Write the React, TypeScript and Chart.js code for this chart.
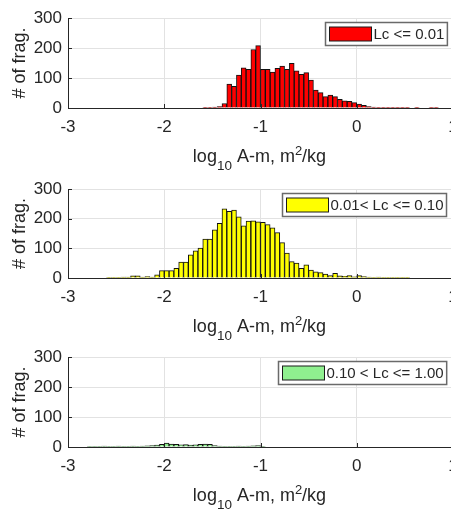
import React, { useEffect, useRef } from 'react';
import { Chart, registerables } from 'chart.js';

Chart.register(...registerables);

// ---- data ----
const BIN_WIDTH = 0.05;
const xTickValues = [-3, -2, -1, 0, 1];
const yTickValues = [0, 100, 200, 300];
const xTitleParts = [
  { text: 'log', kind: 'main' },
  { text: '10', kind: 'sub' },
  { text: ' A-m, m', kind: 'main' },
  { text: '2', kind: 'sup' },
  { text: '/kg', kind: 'main' },
];
const yTitle = '# of frag.';

// Lc <= 0.01 (bins start at -1.60)
const redStart = -1.6;
const redCounts = [
  1, 2, 3, 5, 15, 80, 72, 110, 134, 129, 195, 208, 129, 129, 120, 132, 140, 129, 149, 124,
  112, 118, 93, 60, 51, 38, 43, 38, 29, 24, 22, 18, 13, 9, 5, 3, 2, 1, 2, 1, 2, 1, 1, 0, 1, 0, 0, 1, 2,
];
// 0.01 < Lc <= 0.10 (bins start at -2.60)
const yellowStart = -2.6;
const yellowCounts = [
  1, 2, 2, 3, 3, 7, 7, 3, 5, 3, 11, 25, 25, 25, 33, 54, 54, 78, 92, 101, 131, 131, 162, 184, 233,
  225, 229, 206, 176, 192, 193, 189, 188, 180, 169, 153, 119, 84, 55, 50, 33, 44, 27, 21, 18, 13,
  8, 16, 7, 6, 8, 4, 8, 5, 3, 2, 3, 2, 1, 2, 1, 1, 1,
];
// 0.10 < Lc <= 1.00 (bins start at -2.80)
const greenStart = -2.8;
const greenCounts = [
  1, 2, 2, 3, 2, 2, 3, 2, 2, 3, 2, 3, 4, 5, 6, 9, 13, 10, 9, 7, 8, 6, 7, 9, 10, 9, 5, 3, 2, 2, 2,
  3, 2, 3, 4, 5, 2,
];

const labels = ['Lc <= 0.01', '0.01< Lc <= 0.10', '0.10 < Lc <= 1.00'];
const colors = ['#ff0000', '#ffff00', '#8ff08f'];

// ---- styling ----
const FONT = "'Liberation Sans', Arial, Helvetica, sans-serif";
const TEXT = '#262626';
const GRID = '#e2e2e2';
const CANVAS_W = 470;
const CANVAS_H = 170;

const decorPlugin = {
  id: 'decor',
  afterDatasetsDraw(chart: any, _args: any, opts: any) {
    const { ctx, chartArea: a, scales } = chart;
    ctx.save();
    // inward tick marks
    ctx.strokeStyle = TEXT;
    ctx.lineWidth = 1;
    ctx.beginPath();
    for (const v of yTickValues) {
      const y = Math.round(scales.y.getPixelForValue(v)) + 0.5;
      ctx.moveTo(a.left, y);
      ctx.lineTo(a.left + 4, y);
    }
    for (const v of xTickValues) {
      const x = Math.round(scales.x.getPixelForValue(v)) + 0.5;
      ctx.moveTo(x, a.bottom);
      ctx.lineTo(x, a.bottom - 4);
    }
    ctx.stroke();

    // legend box
    ctx.font = `15px ${FONT}`;
    const tw = ctx.measureText(opts.label).width;
    const sw = 42, sh = 14, padL = 4, gap = 2, padR = 3, bh = 23;
    const bw = padL + sw + gap + tw + padR;
    const bx = Math.round(a.right - 6.5 - bw) + 0.5;
    const by = Math.round(a.top + 4) + 0.5;
    ctx.fillStyle = '#ffffff';
    ctx.fillRect(bx, by, bw, bh);
    ctx.strokeStyle = '#6a6a6a';
    ctx.lineWidth = 1.5;
    ctx.strokeRect(bx, by, bw, bh);
    ctx.fillStyle = opts.color;
    ctx.fillRect(bx + padL, by + 4.5, sw, sh);
    ctx.strokeStyle = '#1a1a1a';
    ctx.lineWidth = 1;
    ctx.strokeRect(bx + padL, by + 4.5, sw, sh);
    ctx.fillStyle = TEXT;
    ctx.textAlign = 'left';
    ctx.textBaseline = 'middle';
    ctx.fillText(opts.label, bx + padL + sw + gap, by + bh / 2 + 0.5);

    // x axis title with sub/superscript
    const sizes: any = { main: 18, sub: 13.5, sup: 13 };
    const shifts: any = { main: 0, sub: 8, sup: -7 };
    let total = 0;
    const widths = xTitleParts.map((p) => {
      ctx.font = `${sizes[p.kind]}px ${FONT}`;
      const w = ctx.measureText(p.text).width;
      total += w;
      return w;
    });
    let x = (a.left + a.right) / 2 - total / 2 - 1;
    const base = a.bottom + 54;
    ctx.textBaseline = 'alphabetic';
    xTitleParts.forEach((p, i) => {
      ctx.font = `${sizes[p.kind]}px ${FONT}`;
      ctx.fillText(p.text, x, base + shifts[p.kind]);
      x += widths[i];
    });
    ctx.restore();
  },
};

function toPoints(start: number, counts: number[]) {
  return counts.map((c, i) => ({
    x: Math.round((start + BIN_WIDTH * (i + 0.5)) * 10000) / 10000,
    y: c,
  }));
}

type PanelProps = { start: number; counts: number[]; color: string; label: string; top: number; padTop: number };

function Panel({ start, counts, color, label, top, padTop }: PanelProps) {
  const ref = useRef<HTMLCanvasElement>(null);
  useEffect(() => {
    const chart = new Chart(ref.current as HTMLCanvasElement, {
      type: 'bar',
      data: {
        datasets: [
          {
            data: toPoints(start, counts) as any,
            backgroundColor: color,
            borderColor: '#111111',
            borderWidth: 1,
            barPercentage: 1,
            categoryPercentage: 1,
          },
        ],
      },
      options: {
        animation: false,
        responsive: false,
        devicePixelRatio: 1,
        layout: { padding: { top: padTop, right: 17, left: 0, bottom: 0 } },
        plugins: {
          legend: { display: false },
          tooltip: { enabled: false },
          decor: { label, color },
        } as any,
        scales: {
          x: {
            type: 'linear',
            min: -3,
            max: 1,
            offset: false,
            grid: { offset: false, color: GRID, drawTicks: false },
            border: { color: TEXT, width: 1 },
            afterBuildTicks: (s: any) => {
              s.ticks = xTickValues.map((v) => ({ value: v }));
            },
            ticks: {
              font: { family: FONT, size: 17 },
              color: TEXT,
              padding: 9,
              maxRotation: 0,
              autoSkip: false,
            },
            afterFit: (s: any) => {
              s.height = 62;
            },
          },
          y: {
            type: 'linear',
            min: 0,
            max: 300,
            grid: { color: GRID, drawTicks: false },
            border: { color: TEXT, width: 1 },
            afterBuildTicks: (s: any) => {
              s.ticks = yTickValues.map((v) => ({ value: v }));
            },
            ticks: {
              font: { family: FONT, size: 17 },
              color: TEXT,
              padding: 6,
            },
            title: {
              display: true,
              text: yTitle,
              font: { family: FONT, size: 18 },
              color: TEXT,
              padding: { top: 9, bottom: 0 },
            },
            afterFit: (s: any) => {
              s.width = 68;
            },
          },
        },
      } as any,
      plugins: [decorPlugin],
    });
    return () => chart.destroy();
  }, []);
  return (
    <canvas
      ref={ref}
      width={CANVAS_W}
      height={CANVAS_H}
      style={{ position: 'absolute', left: 0, top, width: CANVAS_W, height: CANVAS_H }}
    />
  );
}

export default function App() {
  return (
    <div
      style={{
        position: 'fixed',
        left: 0,
        top: 0,
        width: 451,
        height: 509,
        overflow: 'hidden',
        background: '#ffffff',
      }}
    >
      <Panel start={redStart} counts={redCounts} color={colors[0]} label={labels[0]} top={0} padTop={18} />
      <Panel start={yellowStart} counts={yellowCounts} color={colors[1]} label={labels[1]} top={170} padTop={19} />
      <Panel start={greenStart} counts={greenCounts} color={colors[2]} label={labels[2]} top={339} padTop={18} />
    </div>
  );
}
